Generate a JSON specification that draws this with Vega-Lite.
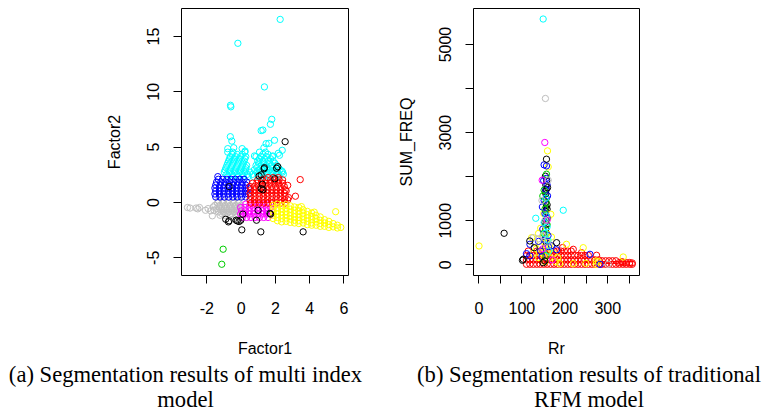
{
"$schema":"https://vega.github.io/schema/vega-lite/v6.json",
"padding":{"left":8,"top":7,"right":2,"bottom":2},
"background":"white",
"config":{
"view":{"stroke":"black","strokeWidth":1},
"axis":{"domain":false,"grid":false,"tickColor":"black","tickSize":8,"tickWidth":1,"labelFont":"Liberation Sans","labelFontSize":16,"labelColor":"black","titleFont":"Liberation Sans","titleFontSize":16,"titleFontWeight":"normal","titleColor":"black","labelOverlap":false,"labelFlush":false},
"axisX":{"labelPadding":17,"titleBaseline":"alphabetic","titleY":78},
"axisY":{"labelAngle":-90,"labelAlign":"center","labelBaseline":"alphabetic","labelPadding":15,"titleAngle":-90,"titleAlign":"center","titleBaseline":"alphabetic","titleX":-62,"titleY":133.5},
"title":{"font":"Liberation Serif","fontSize":22.6,"fontWeight":"normal","color":"black","lineHeight":25,"orient":"bottom","anchor":"middle","frame":"group","offset":8}
},
"datasets":{
"a":[
{"x":-0.75,"y":2.3,"c":"c"},{"x":-0.45,"y":2.3,"c":"c"},{"x":-0.15,"y":2.3,"c":"c"},{"x":0.15,"y":2.3,"c":"c"},{"x":0.45,"y":2.3,"c":"c"},{"x":0.75,"y":2.3,"c":"c"},{"x":1.05,"y":2.3,"c":"c"},{"x":1.35,"y":2.3,"c":"c"},{"x":1.65,"y":2.3,"c":"c"},{"x":1.95,"y":2.3,"c":"c"},{"x":2.25,"y":2.3,"c":"c"},
{"x":-0.8,"y":2.5,"c":"c"},{"x":-0.5,"y":2.5,"c":"c"},{"x":-0.2,"y":2.5,"c":"c"},{"x":0.1,"y":2.5,"c":"c"},{"x":0.4,"y":2.5,"c":"c"},{"x":0.7,"y":2.5,"c":"c"},{"x":1.0,"y":2.5,"c":"c"},{"x":1.3,"y":2.5,"c":"c"},{"x":1.6,"y":2.5,"c":"c"},{"x":1.9,"y":2.5,"c":"c"},{"x":2.2,"y":2.5,"c":"c"},{"x":2.5,"y":2.5,"c":"c"},
{"x":-0.95,"y":2.7,"c":"c"},{"x":-0.65,"y":2.7,"c":"c"},{"x":-0.35,"y":2.7,"c":"c"},{"x":-0.05,"y":2.7,"c":"c"},{"x":0.25,"y":2.7,"c":"c"},{"x":0.55,"y":2.7,"c":"c"},{"x":0.95,"y":2.7,"c":"c"},{"x":1.25,"y":2.7,"c":"c"},{"x":1.55,"y":2.7,"c":"c"},{"x":1.85,"y":2.7,"c":"c"},{"x":2.15,"y":2.7,"c":"c"},{"x":2.45,"y":2.7,"c":"c"},
{"x":-0.9,"y":2.9,"c":"c"},{"x":-0.6,"y":2.9,"c":"c"},{"x":-0.3,"y":2.9,"c":"c"},{"x":0.0,"y":2.9,"c":"c"},{"x":0.3,"y":2.9,"c":"c"},{"x":0.8,"y":2.9,"c":"c"},{"x":1.1,"y":2.9,"c":"c"},{"x":1.4,"y":2.9,"c":"c"},{"x":1.7,"y":2.9,"c":"c"},{"x":2.0,"y":2.9,"c":"c"},{"x":2.3,"y":2.9,"c":"c"},
{"x":-0.85,"y":3.1,"c":"c"},{"x":-0.55,"y":3.1,"c":"c"},{"x":-0.25,"y":3.1,"c":"c"},{"x":0.05,"y":3.1,"c":"c"},{"x":0.3,"y":3.1,"c":"c"},{"x":0.95,"y":3.1,"c":"c"},{"x":1.25,"y":3.1,"c":"c"},{"x":1.55,"y":3.1,"c":"c"},{"x":1.85,"y":3.1,"c":"c"},{"x":2.2,"y":3.1,"c":"c"},
{"x":-0.8,"y":3.3,"c":"c"},{"x":-0.5,"y":3.3,"c":"c"},{"x":-0.2,"y":3.3,"c":"c"},{"x":0.1,"y":3.3,"c":"c"},{"x":0.35,"y":3.3,"c":"c"},{"x":0.9,"y":3.3,"c":"c"},{"x":1.2,"y":3.3,"c":"c"},{"x":1.5,"y":3.3,"c":"c"},{"x":1.8,"y":3.3,"c":"c"},{"x":2.1,"y":3.3,"c":"c"},
{"x":-0.75,"y":3.5,"c":"c"},{"x":-0.45,"y":3.5,"c":"c"},{"x":-0.15,"y":3.5,"c":"c"},{"x":0.15,"y":3.5,"c":"c"},{"x":1.05,"y":3.5,"c":"c"},{"x":1.35,"y":3.5,"c":"c"},{"x":1.7,"y":3.5,"c":"c"},{"x":2.0,"y":3.5,"c":"c"},
{"x":-0.7,"y":3.7,"c":"c"},{"x":-0.4,"y":3.7,"c":"c"},{"x":-0.1,"y":3.7,"c":"c"},{"x":0.2,"y":3.7,"c":"c"},{"x":1.0,"y":3.7,"c":"c"},{"x":1.3,"y":3.7,"c":"c"},{"x":1.6,"y":3.7,"c":"c"},{"x":1.9,"y":3.7,"c":"c"},
{"x":-0.65,"y":3.9,"c":"c"},{"x":-0.35,"y":3.9,"c":"c"},{"x":-0.05,"y":3.9,"c":"c"},{"x":0.25,"y":3.9,"c":"c"},{"x":1.1,"y":3.9,"c":"c"},{"x":1.4,"y":3.9,"c":"c"},{"x":1.75,"y":3.9,"c":"c"},
{"x":-0.6,"y":4.1,"c":"c"},{"x":-0.3,"y":4.1,"c":"c"},{"x":0.0,"y":4.1,"c":"c"},{"x":0.3,"y":4.1,"c":"c"},{"x":0.9,"y":4.1,"c":"c"},{"x":1.2,"y":4.1,"c":"c"},{"x":1.5,"y":4.1,"c":"c"},{"x":1.85,"y":4.1,"c":"c"},
{"x":-0.5,"y":4.3,"c":"c"},{"x":-0.2,"y":4.3,"c":"c"},{"x":0.1,"y":4.3,"c":"c"},{"x":1.3,"y":4.3,"c":"c"},{"x":1.6,"y":4.3,"c":"c"},
{"x":-0.75,"y":4.5,"c":"c"},{"x":-0.45,"y":4.5,"c":"c"},{"x":0.25,"y":4.5,"c":"c"},{"x":1.1,"y":4.5,"c":"c"},{"x":1.45,"y":4.5,"c":"c"},
{"x":2.31,"y":16.5,"c":"c"},{"x":-0.16,"y":14.34,"c":"c"},{"x":1.39,"y":10.4,"c":"c"},{"x":-0.59,"y":8.74,"c":"c"},{"x":-0.57,"y":8.6,"c":"c"},{"x":1.82,"y":7.47,"c":"c"},{"x":1.74,"y":7.02,"c":"c"},{"x":1.2,"y":6.45,"c":"c"},{"x":1.3,"y":6.5,"c":"c"},{"x":-0.6,"y":5.9,"c":"c"},{"x":-0.51,"y":5.5,"c":"c"},{"x":1.98,"y":5.58,"c":"c"},{"x":2.43,"y":4.67,"c":"c"},{"x":2.27,"y":4.22,"c":"c"},{"x":1.49,"y":5.27,"c":"c"},{"x":1.36,"y":4.9,"c":"c"},{"x":1.88,"y":4.16,"c":"c"},{"x":-0.75,"y":4.82,"c":"c"},{"x":0.09,"y":4.82,"c":"c"},{"x":0.26,"y":4.6,"c":"c"},{"x":0.81,"y":4.16,"c":"c"},{"x":2.41,"y":2.8,"c":"c"},{"x":1.65,"y":5.3,"c":"c"},{"x":-0.4,"y":4.9,"c":"c"},{"x":2.2,"y":4.4,"c":"c"},
{"x":-3.1,"y":-0.5,"c":"s"},{"x":-2.95,"y":-0.55,"c":"s"},{"x":-2.6,"y":-0.55,"c":"s"},{"x":-2.5,"y":-0.62,"c":"s"},{"x":-2.4,"y":-0.5,"c":"s"},{"x":-2.05,"y":-0.75,"c":"s"},{"x":-1.9,"y":-0.6,"c":"s"},{"x":-1.75,"y":-0.8,"c":"s"},{"x":-1.65,"y":-1.25,"c":"s"},{"x":-1.6,"y":-0.45,"c":"s"},
{"x":-1.3,"y":0.1,"c":"s"},{"x":-1.0,"y":0.1,"c":"s"},{"x":-0.7,"y":0.1,"c":"s"},{"x":-0.4,"y":0.1,"c":"s"},{"x":-0.1,"y":0.1,"c":"s"},
{"x":-1.35,"y":-0.1,"c":"s"},{"x":-1.05,"y":-0.1,"c":"s"},{"x":-0.75,"y":-0.1,"c":"s"},{"x":-0.45,"y":-0.1,"c":"s"},{"x":-0.15,"y":-0.1,"c":"s"},
{"x":-1.5,"y":-0.3,"c":"s"},{"x":-1.2,"y":-0.3,"c":"s"},{"x":-0.9,"y":-0.3,"c":"s"},{"x":-0.6,"y":-0.3,"c":"s"},{"x":-0.3,"y":-0.3,"c":"s"},{"x":0.0,"y":-0.3,"c":"s"},
{"x":-1.25,"y":-0.45,"c":"s"},{"x":-0.95,"y":-0.45,"c":"s"},{"x":-0.65,"y":-0.45,"c":"s"},{"x":-0.35,"y":-0.45,"c":"s"},{"x":-0.05,"y":-0.45,"c":"s"},
{"x":-1.4,"y":-0.6,"c":"s"},{"x":-1.1,"y":-0.6,"c":"s"},{"x":-0.8,"y":-0.6,"c":"s"},{"x":-0.5,"y":-0.6,"c":"s"},{"x":-0.2,"y":-0.6,"c":"s"},{"x":0.1,"y":-0.6,"c":"s"},
{"x":-1.55,"y":-0.75,"c":"s"},{"x":-1.15,"y":-0.75,"c":"s"},{"x":-0.85,"y":-0.75,"c":"s"},{"x":-0.55,"y":-0.75,"c":"s"},{"x":-0.25,"y":-0.75,"c":"s"},
{"x":-1.3,"y":-0.9,"c":"s"},{"x":-1.0,"y":-0.9,"c":"s"},{"x":-0.7,"y":-0.9,"c":"s"},{"x":-0.4,"y":-0.9,"c":"s"},{"x":-0.1,"y":-0.9,"c":"s"},
{"x":-1.1,"y":-1.05,"c":"s"},{"x":-0.8,"y":-1.05,"c":"s"},{"x":-0.5,"y":-1.05,"c":"s"},{"x":-0.2,"y":-1.05,"c":"s"},
{"x":-1.2,"y":-1.2,"c":"s"},{"x":-0.9,"y":-1.2,"c":"s"},{"x":-0.6,"y":-1.2,"c":"s"},{"x":-0.3,"y":-1.2,"c":"s"},
{"x":-1.45,"y":0.45,"c":"b"},{"x":-1.2,"y":0.45,"c":"b"},{"x":-0.95,"y":0.45,"c":"b"},{"x":-0.7,"y":0.45,"c":"b"},{"x":-0.45,"y":0.45,"c":"b"},{"x":-0.2,"y":0.45,"c":"b"},{"x":0.05,"y":0.45,"c":"b"},{"x":0.3,"y":0.45,"c":"b"},
{"x":-1.5,"y":0.72,"c":"b"},{"x":-1.25,"y":0.72,"c":"b"},{"x":-1.0,"y":0.72,"c":"b"},{"x":-0.75,"y":0.72,"c":"b"},{"x":-0.5,"y":0.72,"c":"b"},{"x":-0.25,"y":0.72,"c":"b"},{"x":0.0,"y":0.72,"c":"b"},{"x":0.25,"y":0.72,"c":"b"},{"x":0.45,"y":0.72,"c":"b"},
{"x":-1.45,"y":0.99,"c":"b"},{"x":-1.2,"y":0.99,"c":"b"},{"x":-0.95,"y":0.99,"c":"b"},{"x":-0.7,"y":0.99,"c":"b"},{"x":-0.45,"y":0.99,"c":"b"},{"x":-0.2,"y":0.99,"c":"b"},{"x":0.05,"y":0.99,"c":"b"},{"x":0.3,"y":0.99,"c":"b"},
{"x":-1.5,"y":1.26,"c":"b"},{"x":-1.25,"y":1.26,"c":"b"},{"x":-1.0,"y":1.26,"c":"b"},{"x":-0.75,"y":1.26,"c":"b"},{"x":-0.5,"y":1.26,"c":"b"},{"x":-0.25,"y":1.26,"c":"b"},{"x":0.0,"y":1.26,"c":"b"},{"x":0.25,"y":1.26,"c":"b"},{"x":0.45,"y":1.26,"c":"b"},
{"x":-1.45,"y":1.53,"c":"b"},{"x":-1.2,"y":1.53,"c":"b"},{"x":-0.95,"y":1.53,"c":"b"},{"x":-0.7,"y":1.53,"c":"b"},{"x":-0.45,"y":1.53,"c":"b"},{"x":-0.2,"y":1.53,"c":"b"},{"x":0.05,"y":1.53,"c":"b"},{"x":0.3,"y":1.53,"c":"b"},
{"x":-1.4,"y":1.8,"c":"b"},{"x":-1.15,"y":1.8,"c":"b"},{"x":-0.9,"y":1.8,"c":"b"},{"x":-0.65,"y":1.8,"c":"b"},{"x":-0.4,"y":1.8,"c":"b"},{"x":-0.15,"y":1.8,"c":"b"},{"x":0.1,"y":1.8,"c":"b"},{"x":0.35,"y":1.8,"c":"b"},
{"x":-1.3,"y":2.05,"c":"b"},{"x":-1.05,"y":2.05,"c":"b"},{"x":-0.8,"y":2.05,"c":"b"},{"x":-0.55,"y":2.05,"c":"b"},{"x":-0.3,"y":2.05,"c":"b"},{"x":-0.05,"y":2.05,"c":"b"},{"x":0.2,"y":2.05,"c":"b"},{"x":-1.33,"y":2.29,"c":"b"},
{"x":0.3,"y":-0.2,"c":"m"},{"x":0.55,"y":-0.2,"c":"m"},{"x":0.8,"y":-0.2,"c":"m"},{"x":1.05,"y":-0.2,"c":"m"},{"x":1.3,"y":-0.2,"c":"m"},{"x":1.55,"y":-0.2,"c":"m"},
{"x":0.0,"y":-0.5,"c":"m"},{"x":0.25,"y":-0.5,"c":"m"},{"x":0.5,"y":-0.5,"c":"m"},{"x":0.75,"y":-0.5,"c":"m"},{"x":1.0,"y":-0.5,"c":"m"},{"x":1.25,"y":-0.5,"c":"m"},{"x":1.5,"y":-0.5,"c":"m"},{"x":1.75,"y":-0.5,"c":"m"},
{"x":0.05,"y":-0.8,"c":"m"},{"x":0.3,"y":-0.8,"c":"m"},{"x":0.55,"y":-0.8,"c":"m"},{"x":0.8,"y":-0.8,"c":"m"},{"x":1.05,"y":-0.8,"c":"m"},{"x":1.3,"y":-0.8,"c":"m"},{"x":1.55,"y":-0.8,"c":"m"},{"x":1.8,"y":-0.8,"c":"m"},
{"x":0.0,"y":-1.1,"c":"m"},{"x":0.25,"y":-1.1,"c":"m"},{"x":0.5,"y":-1.1,"c":"m"},{"x":0.75,"y":-1.1,"c":"m"},{"x":1.0,"y":-1.1,"c":"m"},{"x":1.25,"y":-1.1,"c":"m"},{"x":1.5,"y":-1.1,"c":"m"},{"x":1.75,"y":-1.1,"c":"m"},
{"x":0.1,"y":-1.4,"c":"m"},{"x":0.35,"y":-1.4,"c":"m"},{"x":0.6,"y":-1.4,"c":"m"},{"x":0.85,"y":-1.4,"c":"m"},{"x":1.1,"y":-1.4,"c":"m"},{"x":1.35,"y":-1.4,"c":"m"},{"x":1.6,"y":-1.4,"c":"m"},
{"x":0.6,"y":-0.1,"c":"r"},{"x":0.85,"y":-0.1,"c":"r"},{"x":1.1,"y":-0.1,"c":"r"},{"x":1.35,"y":-0.1,"c":"r"},{"x":1.6,"y":-0.1,"c":"r"},{"x":1.85,"y":-0.1,"c":"r"},{"x":2.1,"y":-0.1,"c":"r"},{"x":2.35,"y":-0.1,"c":"r"},{"x":2.6,"y":-0.1,"c":"r"},
{"x":0.55,"y":0.2,"c":"r"},{"x":0.8,"y":0.2,"c":"r"},{"x":1.05,"y":0.2,"c":"r"},{"x":1.3,"y":0.2,"c":"r"},{"x":1.55,"y":0.2,"c":"r"},{"x":1.8,"y":0.2,"c":"r"},{"x":2.05,"y":0.2,"c":"r"},{"x":2.3,"y":0.2,"c":"r"},{"x":2.55,"y":0.2,"c":"r"},{"x":2.75,"y":0.2,"c":"r"},
{"x":0.6,"y":0.5,"c":"r"},{"x":0.85,"y":0.5,"c":"r"},{"x":1.1,"y":0.5,"c":"r"},{"x":1.35,"y":0.5,"c":"r"},{"x":1.6,"y":0.5,"c":"r"},{"x":1.85,"y":0.5,"c":"r"},{"x":2.1,"y":0.5,"c":"r"},{"x":2.35,"y":0.5,"c":"r"},{"x":2.6,"y":0.5,"c":"r"},
{"x":0.55,"y":0.8,"c":"r"},{"x":0.8,"y":0.8,"c":"r"},{"x":1.05,"y":0.8,"c":"r"},{"x":1.3,"y":0.8,"c":"r"},{"x":1.55,"y":0.8,"c":"r"},{"x":1.8,"y":0.8,"c":"r"},{"x":2.05,"y":0.8,"c":"r"},{"x":2.3,"y":0.8,"c":"r"},{"x":2.55,"y":0.8,"c":"r"},
{"x":0.6,"y":1.1,"c":"r"},{"x":0.85,"y":1.1,"c":"r"},{"x":1.1,"y":1.1,"c":"r"},{"x":1.35,"y":1.1,"c":"r"},{"x":1.6,"y":1.1,"c":"r"},{"x":1.85,"y":1.1,"c":"r"},{"x":2.1,"y":1.1,"c":"r"},{"x":2.35,"y":1.1,"c":"r"},{"x":2.6,"y":1.1,"c":"r"},
{"x":0.55,"y":1.4,"c":"r"},{"x":0.8,"y":1.4,"c":"r"},{"x":1.05,"y":1.4,"c":"r"},{"x":1.3,"y":1.4,"c":"r"},{"x":1.55,"y":1.4,"c":"r"},{"x":1.8,"y":1.4,"c":"r"},{"x":2.05,"y":1.4,"c":"r"},{"x":2.3,"y":1.4,"c":"r"},{"x":2.55,"y":1.4,"c":"r"},
{"x":0.7,"y":1.7,"c":"r"},{"x":0.95,"y":1.7,"c":"r"},{"x":1.2,"y":1.7,"c":"r"},{"x":1.45,"y":1.7,"c":"r"},{"x":1.7,"y":1.7,"c":"r"},{"x":1.95,"y":1.7,"c":"r"},{"x":2.2,"y":1.7,"c":"r"},{"x":2.45,"y":1.7,"c":"r"},
{"x":1.0,"y":2.0,"c":"r"},{"x":1.25,"y":2.0,"c":"r"},{"x":1.5,"y":2.0,"c":"r"},{"x":1.75,"y":2.0,"c":"r"},{"x":2.0,"y":2.0,"c":"r"},{"x":2.25,"y":2.0,"c":"r"},{"x":2.45,"y":2.0,"c":"r"},
{"x":1.6,"y":2.2,"c":"r"},{"x":1.9,"y":2.2,"c":"r"},{"x":2.2,"y":2.2,"c":"r"},
{"x":3.48,"y":2.02,"c":"r"},{"x":3.2,"y":0.52,"c":"r"},{"x":2.66,"y":1.0,"c":"r"},{"x":2.8,"y":0.4,"c":"r"},{"x":2.75,"y":1.5,"c":"r"},
{"x":1.9,"y":-0.3,"c":"y"},{"x":1.9,"y":-0.6,"c":"y"},{"x":1.9,"y":-0.9,"c":"y"},{"x":1.9,"y":-1.2,"c":"y"},{"x":1.9,"y":-1.5,"c":"y"},
{"x":2.15,"y":-0.2,"c":"y"},{"x":2.15,"y":-0.5,"c":"y"},{"x":2.15,"y":-0.8,"c":"y"},{"x":2.15,"y":-1.1,"c":"y"},{"x":2.15,"y":-1.4,"c":"y"},{"x":2.15,"y":-1.7,"c":"y"},
{"x":2.4,"y":-0.3,"c":"y"},{"x":2.4,"y":-0.6,"c":"y"},{"x":2.4,"y":-0.9,"c":"y"},{"x":2.4,"y":-1.2,"c":"y"},{"x":2.4,"y":-1.5,"c":"y"},{"x":2.4,"y":-1.8,"c":"y"},
{"x":2.65,"y":-0.25,"c":"y"},{"x":2.65,"y":-0.55,"c":"y"},{"x":2.65,"y":-0.85,"c":"y"},{"x":2.65,"y":-1.15,"c":"y"},{"x":2.65,"y":-1.45,"c":"y"},{"x":2.65,"y":-1.75,"c":"y"},
{"x":2.9,"y":-0.35,"c":"y"},{"x":2.9,"y":-0.65,"c":"y"},{"x":2.9,"y":-0.95,"c":"y"},{"x":2.9,"y":-1.25,"c":"y"},{"x":2.9,"y":-1.55,"c":"y"},{"x":2.9,"y":-1.85,"c":"y"},
{"x":3.15,"y":-0.45,"c":"y"},{"x":3.15,"y":-0.75,"c":"y"},{"x":3.15,"y":-1.05,"c":"y"},{"x":3.15,"y":-1.35,"c":"y"},{"x":3.15,"y":-1.65,"c":"y"},{"x":3.15,"y":-1.9,"c":"y"},
{"x":3.4,"y":-0.5,"c":"y"},{"x":3.4,"y":-0.8,"c":"y"},{"x":3.4,"y":-1.1,"c":"y"},{"x":3.4,"y":-1.4,"c":"y"},{"x":3.4,"y":-1.7,"c":"y"},{"x":3.4,"y":-1.95,"c":"y"},
{"x":3.65,"y":-0.7,"c":"y"},{"x":3.65,"y":-1.0,"c":"y"},{"x":3.65,"y":-1.3,"c":"y"},{"x":3.65,"y":-1.6,"c":"y"},{"x":3.65,"y":-1.9,"c":"y"},
{"x":3.9,"y":-0.85,"c":"y"},{"x":3.9,"y":-1.15,"c":"y"},{"x":3.9,"y":-1.45,"c":"y"},{"x":3.9,"y":-1.75,"c":"y"},{"x":3.9,"y":-2.05,"c":"y"},
{"x":4.15,"y":-1.0,"c":"y"},{"x":4.15,"y":-1.3,"c":"y"},{"x":4.15,"y":-1.6,"c":"y"},{"x":4.15,"y":-1.9,"c":"y"},{"x":4.15,"y":-2.1,"c":"y"},
{"x":4.4,"y":-1.2,"c":"y"},{"x":4.4,"y":-1.5,"c":"y"},{"x":4.4,"y":-1.8,"c":"y"},{"x":4.4,"y":-2.1,"c":"y"},
{"x":4.65,"y":-1.35,"c":"y"},{"x":4.65,"y":-1.65,"c":"y"},{"x":4.65,"y":-1.95,"c":"y"},{"x":4.65,"y":-2.2,"c":"y"},
{"x":4.9,"y":-1.6,"c":"y"},{"x":4.9,"y":-1.9,"c":"y"},{"x":4.9,"y":-2.2,"c":"y"},
{"x":5.15,"y":-1.75,"c":"y"},{"x":5.15,"y":-2.05,"c":"y"},{"x":5.15,"y":-2.3,"c":"y"},
{"x":5.4,"y":-1.95,"c":"y"},{"x":5.4,"y":-2.25,"c":"y"},{"x":5.65,"y":-2.1,"c":"y"},{"x":5.65,"y":-2.35,"c":"y"},{"x":5.85,"y":-2.3,"c":"y"},
{"x":5.55,"y":-0.88,"c":"y"},{"x":4.3,"y":-0.92,"c":"y"},{"x":3.55,"y":-0.42,"c":"y"},
{"x":-1.02,"y":-4.27,"c":"g"},{"x":-1.1,"y":-5.63,"c":"g"},
{"x":2.6,"y":5.45,"c":"k"},{"x":1.39,"y":3.1,"c":"k"},{"x":2.17,"y":3.19,"c":"k"},{"x":1.37,"y":3.0,"c":"k"},{"x":2.1,"y":3.05,"c":"k"},{"x":1.08,"y":2.35,"c":"k"},{"x":1.2,"y":2.45,"c":"k"},{"x":-0.67,"y":1.39,"c":"k"},{"x":1.27,"y":1.6,"c":"k"},{"x":1.2,"y":1.2,"c":"k"},{"x":1.3,"y":1.1,"c":"k"},{"x":2.0,"y":2.1,"c":"k"},{"x":1.02,"y":-0.75,"c":"k"},{"x":1.71,"y":-1.03,"c":"k"},{"x":1.75,"y":-1.1,"c":"k"},{"x":-0.87,"y":-1.56,"c":"k"},{"x":-0.67,"y":-1.7,"c":"k"},{"x":-0.71,"y":-1.8,"c":"k"},{"x":-0.19,"y":-1.71,"c":"k"},{"x":-0.09,"y":-1.77,"c":"k"},{"x":0.01,"y":-1.65,"c":"k"},{"x":-0.26,"y":-1.65,"c":"k"},{"x":0.13,"y":-1.1,"c":"k"},{"x":0.07,"y":-2.52,"c":"k"},{"x":1.18,"y":-2.7,"c":"k"},{"x":3.65,"y":-2.7,"c":"k"},{"x":0.93,"y":-1.65,"c":"k"}
],
"b":[
{"x":112,"y":0,"c":"r"},{"x":112,"y":100,"c":"r"},{"x":112,"y":200,"c":"r"},{"x":120,"y":0,"c":"r"},{"x":120,"y":100,"c":"r"},{"x":120,"y":200,"c":"r"},{"x":128,"y":0,"c":"r"},{"x":128,"y":100,"c":"r"},{"x":128,"y":200,"c":"r"},{"x":136,"y":0,"c":"r"},{"x":136,"y":100,"c":"r"},{"x":136,"y":200,"c":"r"},{"x":136,"y":300,"c":"r"},{"x":144,"y":0,"c":"r"},{"x":144,"y":100,"c":"r"},{"x":144,"y":200,"c":"r"},{"x":144,"y":300,"c":"r"},
{"x":152,"y":0,"c":"r"},{"x":152,"y":100,"c":"r"},{"x":152,"y":200,"c":"r"},{"x":152,"y":300,"c":"r"},{"x":160,"y":0,"c":"r"},{"x":160,"y":100,"c":"r"},{"x":160,"y":200,"c":"r"},{"x":160,"y":300,"c":"r"},{"x":168,"y":0,"c":"r"},{"x":168,"y":100,"c":"r"},{"x":168,"y":200,"c":"r"},{"x":168,"y":300,"c":"r"},{"x":176,"y":0,"c":"r"},{"x":176,"y":100,"c":"r"},{"x":176,"y":200,"c":"r"},{"x":176,"y":300,"c":"r"},{"x":184,"y":0,"c":"r"},{"x":184,"y":100,"c":"r"},{"x":184,"y":200,"c":"r"},{"x":184,"y":300,"c":"r"},{"x":192,"y":0,"c":"r"},{"x":192,"y":100,"c":"r"},{"x":192,"y":200,"c":"r"},{"x":192,"y":300,"c":"r"},{"x":200,"y":0,"c":"r"},{"x":200,"y":100,"c":"r"},{"x":200,"y":200,"c":"r"},{"x":200,"y":300,"c":"r"},
{"x":208,"y":0,"c":"r"},{"x":208,"y":100,"c":"r"},{"x":208,"y":200,"c":"r"},{"x":208,"y":300,"c":"r"},{"x":216,"y":0,"c":"r"},{"x":216,"y":100,"c":"r"},{"x":216,"y":200,"c":"r"},{"x":216,"y":300,"c":"r"},{"x":224,"y":0,"c":"r"},{"x":224,"y":100,"c":"r"},{"x":224,"y":200,"c":"r"},{"x":232,"y":0,"c":"r"},{"x":232,"y":100,"c":"r"},{"x":232,"y":200,"c":"r"},{"x":240,"y":0,"c":"r"},{"x":240,"y":100,"c":"r"},{"x":240,"y":200,"c":"r"},
{"x":248,"y":0,"c":"r"},{"x":248,"y":100,"c":"r"},{"x":248,"y":200,"c":"r"},{"x":256,"y":0,"c":"r"},{"x":256,"y":100,"c":"r"},{"x":256,"y":200,"c":"r"},{"x":264,"y":0,"c":"r"},{"x":264,"y":100,"c":"r"},{"x":272,"y":0,"c":"r"},{"x":272,"y":100,"c":"r"},{"x":280,"y":0,"c":"r"},{"x":280,"y":100,"c":"r"},
{"x":288,"y":0,"c":"r"},{"x":288,"y":80,"c":"r"},{"x":296,"y":0,"c":"r"},{"x":296,"y":80,"c":"r"},{"x":304,"y":0,"c":"r"},{"x":304,"y":80,"c":"r"},{"x":312,"y":0,"c":"r"},{"x":312,"y":80,"c":"r"},{"x":320,"y":0,"c":"r"},{"x":320,"y":80,"c":"r"},
{"x":328,"y":0,"c":"r"},{"x":328,"y":40,"c":"r"},{"x":336,"y":0,"c":"r"},{"x":336,"y":40,"c":"r"},{"x":344,"y":0,"c":"r"},{"x":344,"y":40,"c":"r"},{"x":352,"y":0,"c":"r"},{"x":352,"y":40,"c":"r"},{"x":358,"y":0,"c":"r"},{"x":358,"y":30,"c":"r"},
{"x":220.8,"y":340,"c":"r"},{"x":240,"y":264,"c":"r"},{"x":275,"y":205,"c":"r"},{"x":334.6,"y":59,"c":"r"},{"x":116,"y":300,"c":"r"},{"x":196,"y":380,"c":"r"},
{"x":157,"y":1800,"c":"k"},{"x":158,"y":1700,"c":"k"},{"x":157,"y":1600,"c":"k"},{"x":158,"y":1500,"c":"k"},{"x":157,"y":1400,"c":"k"},{"x":158,"y":1300,"c":"k"},{"x":157,"y":1200,"c":"k"},{"x":158,"y":1100,"c":"k"},{"x":157,"y":1000,"c":"k"},{"x":158,"y":900,"c":"k"},{"x":157,"y":800,"c":"k"},{"x":158,"y":700,"c":"k"},{"x":157,"y":600,"c":"k"},{"x":158,"y":500,"c":"k"},{"x":157,"y":400,"c":"k"},{"x":156,"y":1650,"c":"k"},{"x":160,"y":1350,"c":"k"},{"x":155,"y":950,"c":"k"},{"x":160,"y":1250,"c":"k"},{"x":159,"y":1900,"c":"k"},{"x":156,"y":2000,"c":"k"},
{"x":1.6,"y":416,"c":"y"},{"x":160.9,"y":2575,"c":"y"},{"x":162.5,"y":2211,"c":"y"},{"x":168.6,"y":1136,"c":"y"},{"x":205,"y":454,"c":"y"},{"x":244,"y":377,"c":"y"},{"x":337,"y":166,"c":"y"},{"x":189.6,"y":14,"c":"y"},{"x":220.8,"y":14,"c":"y"},{"x":274,"y":75,"c":"y"},{"x":274,"y":0,"c":"y"},{"x":279,"y":60,"c":"y"},{"x":131,"y":491,"c":"y"},{"x":124,"y":605,"c":"y"},{"x":140,"y":700,"c":"y"},{"x":145,"y":820,"c":"y"},{"x":150,"y":600,"c":"y"},{"x":155,"y":480,"c":"y"},{"x":165,"y":450,"c":"y"},{"x":170,"y":620,"c":"y"},{"x":145,"y":400,"c":"y"},{"x":160,"y":300,"c":"y"},{"x":135,"y":350,"c":"y"},{"x":150,"y":250,"c":"y"},{"x":165,"y":150,"c":"y"},{"x":175,"y":250,"c":"y"},{"x":185,"y":150,"c":"y"},{"x":140,"y":150,"c":"y"},{"x":162,"y":1050,"c":"y"},{"x":152,"y":1150,"c":"y"},{"x":158,"y":700,"c":"y"},{"x":168,"y":350,"c":"y"},{"x":128,"y":250,"c":"y"},{"x":180,"y":60,"c":"y"},{"x":250,"y":20,"c":"y"},{"x":155,"y":60,"c":"y"},
{"x":153,"y":2257,"c":"b"},{"x":158.5,"y":2234,"c":"b"},{"x":161,"y":1553,"c":"b"},{"x":149,"y":1302,"c":"b"},{"x":153,"y":1450,"c":"b"},{"x":160,"y":1050,"c":"b"},{"x":150,"y":800,"c":"b"},{"x":162,"y":650,"c":"b"},{"x":155,"y":1150,"c":"b"},{"x":152,"y":1900,"c":"b"},{"x":158,"y":1950,"c":"b"},{"x":163,"y":400,"c":"b"},{"x":145,"y":300,"c":"b"},{"x":112,"y":241,"c":"b"},{"x":119.7,"y":189,"c":"b"},{"x":120,"y":454,"c":"b"},{"x":259.6,"y":227,"c":"b"},{"x":283,"y":0,"c":"b"},{"x":140,"y":520,"c":"b"},{"x":170,"y":420,"c":"b"},{"x":182,"y":330,"c":"b"},{"x":157,"y":1700,"c":"b"},{"x":160,"y":1800,"c":"b"},{"x":155,"y":550,"c":"b"},{"x":148,"y":180,"c":"b"},
{"x":158.5,"y":2045,"c":"g"},{"x":153,"y":1683,"c":"g"},{"x":155,"y":1250,"c":"g"},{"x":160,"y":900,"c":"g"},{"x":157,"y":200,"c":"g"},{"x":150,"y":1550,"c":"g"},{"x":158,"y":1400,"c":"g"},{"x":152,"y":700,"c":"g"},
{"x":150.8,"y":5568,"c":"c"},{"x":133.6,"y":1045,"c":"c"},{"x":197.5,"y":1227,"c":"c"},{"x":158,"y":1100,"c":"c"},{"x":160,"y":850,"c":"c"},{"x":155,"y":700,"c":"c"},{"x":162,"y":550,"c":"c"},{"x":164,"y":300,"c":"c"},{"x":157,"y":1500,"c":"c"},{"x":153,"y":950,"c":"c"},
{"x":154.6,"y":2765,"c":"m"},{"x":148.5,"y":1909,"c":"m"},{"x":160,"y":1000,"c":"m"},{"x":172,"y":100,"c":"m"},{"x":150,"y":350,"c":"m"},
{"x":156,"y":3764,"c":"s"},{"x":162.5,"y":1909,"c":"s"},{"x":155,"y":1000,"c":"s"},{"x":150,"y":650,"c":"s"},{"x":127.5,"y":605,"c":"s"},{"x":160,"y":500,"c":"s"},{"x":302,"y":0,"c":"s"},{"x":148,"y":1450,"c":"s"},{"x":140,"y":580,"c":"s"},
{"x":60,"y":704,"c":"k"},{"x":102.6,"y":91,"c":"k"},{"x":104.5,"y":114,"c":"k"},{"x":119.7,"y":530,"c":"k"},{"x":130,"y":377,"c":"k"},{"x":154.6,"y":75,"c":"k"},{"x":150.8,"y":36,"c":"k"},{"x":182,"y":491,"c":"k"},{"x":158.5,"y":2386,"c":"k"},{"x":161,"y":1741,"c":"k"}
]
},
"hconcat":[
{
"width":167,"height":267,
"title":{"text":["(a) Segmentation results of multi index","model"],"dx":-79},
"data":{"name":"a"},
"mark":{"type":"point","shape":"circle","filled":false,"size":40,"strokeWidth":1,"opacity":1},
"encoding":{
"x":{"field":"x","type":"quantitative","scale":{"domain":[-3.48,6.27],"nice":false,"zero":false},"axis":{"title":"Factor1","values":[-2,0,2,4,6],"labelExpr":"toString(datum.value)"}},
"y":{"field":"y","type":"quantitative","scale":{"domain":[-6.6,17.53],"nice":false,"zero":false},"axis":{"title":"Factor2","values":[-5,0,5,10,15],"labelExpr":"toString(datum.value)"}},
"color":{"field":"c","type":"nominal","scale":{"domain":["k","r","g","b","c","m","y","s"],"range":["#000000","#FF0000","#00CD00","#0000FF","#00FFFF","#FF00FF","#FFFF00","#BEBEBE"]},"legend":null}
}
},
{
"width":166,"height":267,
"title":{"text":["(b) Segmentation results of traditional","RFM model"],"dx":33},
"data":{"name":"b"},
"mark":{"type":"point","shape":"circle","filled":false,"size":40,"strokeWidth":1,"opacity":1},
"encoding":{
"x":{"field":"x","type":"quantitative","scale":{"domain":[-12.4,373.7],"nice":false,"zero":false},"axis":{"title":"Rr","values":[0,50,100,150,200,250,300,350],"labelExpr":"datum.value % 100 == 0 ? toString(datum.value) : ''"}},
"y":{"field":"y","type":"quantitative","scale":{"domain":[-243,5818],"nice":false,"zero":false},"axis":{"title":"SUM_FREQ","values":[0,1000,2000,3000,4000,5000],"labelExpr":"datum.value == 2000 || datum.value == 4000 ? '' : toString(datum.value)"}},
"color":{"field":"c","type":"nominal","scale":{"domain":["k","r","g","b","c","m","y","s"],"range":["#000000","#FF0000","#00CD00","#0000FF","#00FFFF","#FF00FF","#FFFF00","#BEBEBE"]},"legend":null}
}
}
],
"spacing":125,
"bounds":"flush"
}
